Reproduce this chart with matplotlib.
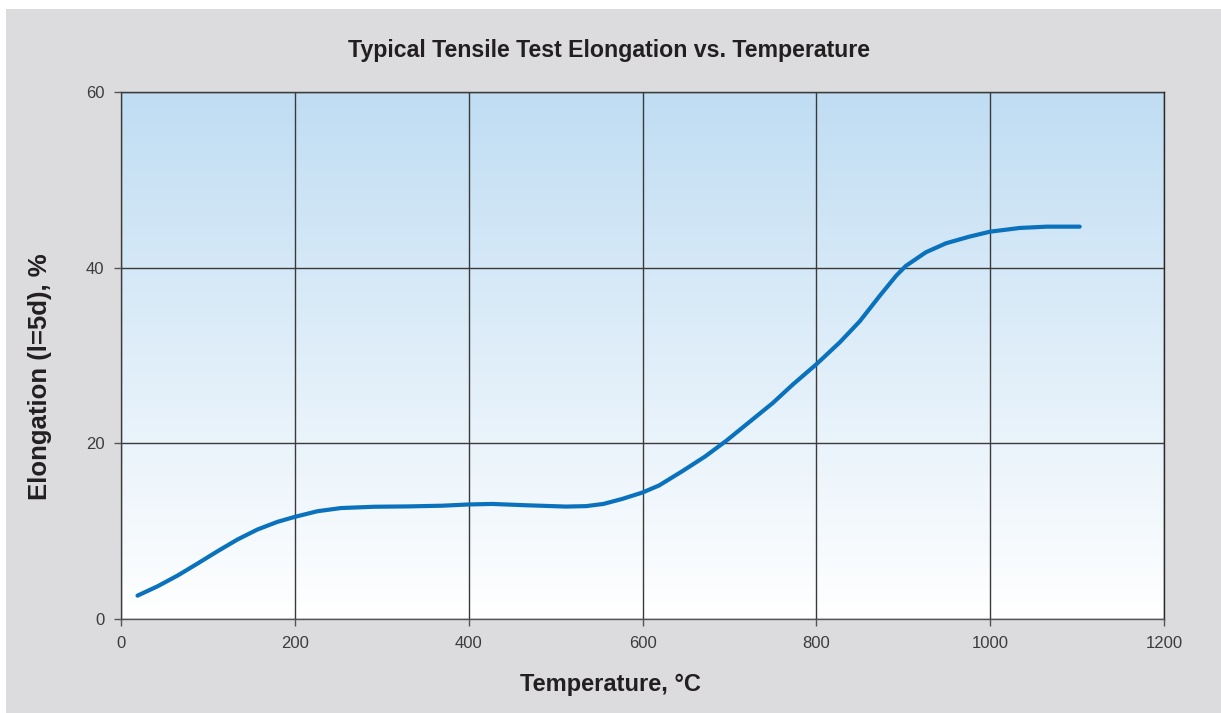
import matplotlib
matplotlib.use('Agg')
import matplotlib.pyplot as plt
import numpy as np
from matplotlib.colors import LinearSegmentedColormap
from matplotlib.patches import Rectangle

# values
temps = [19, 42, 65, 88, 111, 134, 157, 180, 200, 226, 253, 291, 331, 370,
         400, 427, 466, 512, 535, 555, 577, 600, 619, 646, 672, 696, 750, 773,
         800, 827, 850, 873, 892, 903, 926, 949, 976, 1000, 1034, 1065, 1103]
elong = [2.66, 3.72, 4.94, 6.31, 7.71, 9.05, 10.19, 11.06, 11.63, 12.27,
         12.63, 12.78, 12.82, 12.9, 13.04, 13.1, 12.95, 12.8, 12.85, 13.1,
         13.68, 14.4, 15.2, 16.84, 18.5, 20.26, 24.6, 26.7, 29.0, 31.5, 33.9,
         36.8, 39.1, 40.2, 41.75, 42.77, 43.53, 44.1, 44.52, 44.67, 44.67]

x_ticks = [0, 200, 400, 600, 800, 1000, 1200]
y_ticks = [0, 20, 40, 60]

title = 'Typical Tensile Test Elongation vs. Temperature'
x_label = 'Temperature, °C'
y_label = 'Elongation (l=5d), %'

bold_font = ['Liberation Sans', 'DejaVu Sans']
tick_font = ['Liberation Sans', 'DejaVu Sans']

fig = plt.figure(figsize=(12.21, 7.13), dpi=100, facecolor='white')
# gray panel, with thin white margin at top/left
fig.patches.append(Rectangle((6 / 1221, 0), 1, 1 - 9 / 713, transform=fig.transFigure,
                             facecolor='#dcdcde', edgecolor='none', zorder=-10))

ax = fig.add_axes([121 / 1221, 1 - 619 / 713, (1164 - 121) / 1221, (619 - 92) / 713])
ax.set_xlim(0, 1200)
ax.set_ylim(0, 60)

# vertical gradient from light blue (top) to white (bottom)
cmap = LinearSegmentedColormap.from_list('bg', ['#ffffff', '#c0ddf3'])
grad = np.linspace(0, 1, 256).reshape(-1, 1)
ax.imshow(grad, cmap=cmap, origin='lower', aspect='auto',
          extent=[0, 1200, 0, 60], zorder=0)

ax.set_xticks(x_ticks)
ax.set_yticks(y_ticks)
ax.grid(True, color='#3a3a3a', linewidth=1.0, zorder=1)
ax.set_axisbelow(False)

ax.plot(temps, elong, color='#0a72bd', linewidth=3, solid_capstyle='round',
        solid_joinstyle='round', zorder=3)

for side in ['top', 'right']:
    ax.spines[side].set_color('#2a2a2a')
for side in ['left', 'bottom']:
    ax.spines[side].set_color('#555555')
for s in ax.spines.values():
    s.set_linewidth(1.0)

ax.tick_params(direction='out', length=5, width=1, color='#555555',
               labelcolor='#3c3c3c', labelsize=12, pad=7)
for lab in ax.get_xticklabels() + ax.get_yticklabels():
    lab.set_family(tick_font)

fig.text(609 / 1221, 1 - 50 / 713, title, ha='center', va='center',
         fontsize=16.7, fontweight='bold', family=bold_font, color='#231f20')
fig.text(610 / 1221, 1 - 685 / 713, x_label, ha='center', va='center',
         fontsize=17, fontweight='bold', family=bold_font, color='#231f20')
fig.text(40 / 1221, 1 - 377 / 713, y_label, ha='center', va='center', rotation=90,
         fontsize=18.5, fontweight='bold', family=bold_font, color='#231f20')

fig.savefig('out.png', dpi=100, facecolor=fig.get_facecolor())
